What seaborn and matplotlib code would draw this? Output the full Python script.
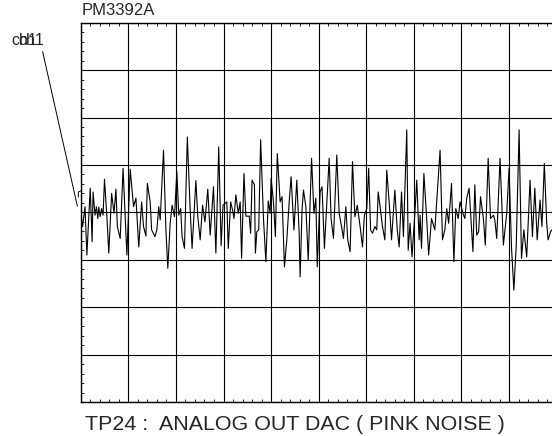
import matplotlib
matplotlib.use("Agg")
import matplotlib.pyplot as plt
import seaborn as sns
import pandas as pd
from matplotlib.ticker import MultipleLocator

# trace, in graticule divisions
time_div = [0.00, 0.04, 0.09, 0.13, 0.20, 0.24, 0.26, 0.30, 0.33, 0.36,
            0.38, 0.41, 0.44, 0.47, 0.50, 0.55, 0.59, 0.65, 0.70, 0.74,
            0.77, 0.83, 0.89, 0.97, 1.04, 1.11, 1.16, 1.19, 1.22, 1.28,
            1.32, 1.37, 1.40, 1.46, 1.49, 1.56, 1.60, 1.64, 1.67, 1.74,
            1.79, 1.83, 1.88, 1.92, 1.97, 2.02, 2.06, 2.10, 2.13, 2.18,
            2.24, 2.30, 2.34, 2.42, 2.46, 2.51, 2.56, 2.61, 2.67, 2.72,
            2.79, 2.84, 2.90, 2.95,
            2.99, 3.07, 3.10, 3.15, 3.19, 3.22, 3.26, 3.31, 3.35, 3.38,
            3.43, 3.47, 3.54, 3.57, 3.60, 3.65, 3.67, 3.70, 3.74, 3.78,
            3.84, 3.89, 3.94, 3.98, 4.00, 4.05, 4.09, 4.13, 4.19, 4.23,
            4.28, 4.33, 4.38, 4.42, 4.48, 4.54, 4.59, 4.61, 4.65, 4.68,
            4.73, 4.78, 4.85, 4.90, 4.94, 4.97, 5.03, 5.07, 5.12, 5.22,
            5.26, 5.31, 5.38, 5.43, 5.48, 5.52, 5.57, 5.61, 5.66, 5.71,
            5.76, 5.81, 5.87, 5.92, 5.96, 6.01, 6.05, 6.09, 6.13, 6.18,
            6.22, 6.25, 6.29, 6.34, 6.39, 6.43,
            6.49, 6.53, 6.60, 6.65, 6.69, 6.74, 6.78, 6.85, 6.88, 6.92,
            6.96, 7.02, 7.06, 7.11, 7.13, 7.16, 7.21, 7.27, 7.31, 7.37,
            7.41, 7.44, 7.55, 7.60, 7.65, 7.69, 7.73, 7.79, 7.84, 7.88,
            7.93, 7.97, 8.03, 8.07, 8.11, 8.16, 8.24, 8.28, 8.32, 8.36,
            8.40, 8.46, 8.50, 8.56, 8.61, 8.67, 8.70, 8.74, 8.81, 8.88,
            8.95, 9.00, 9.05, 9.10, 9.15, 9.21, 9.26, 9.31, 9.37, 9.44,
            9.49, 9.54, 9.59, 9.65, 9.69, 9.74, 9.79, 9.82, 9.87, 9.92]

volt_div = [0.01, -0.30, 0.12, -0.90, 0.51, -0.62, 0.43, -0.06, 0.12, -0.13,
            0.11, -0.09, 0.08, -0.06, 0.70, -0.09, -0.86, 0.40, -0.02, 0.49,
            -0.30, -0.55, 0.93, -0.90, 0.91, 0.12, 0.30, -0.23, -0.73, 0.22,
            -0.30, -0.50, 0.61, 0.22, -0.37, -0.51, -0.37, 0.12, -0.16, 1.31,
            -0.37, -1.18, -0.23, 0.15, -0.09, 0.86, -0.06, 0.08, -0.51, -0.76,
            1.59, 0.05, -0.76, 0.67, -0.09, -0.58, 0.15, -0.20, 0.49, -0.48,
            0.54, -0.86, 1.38, -0.70,
            0.15, 0.22, -0.76, 0.22, 0.05, -0.13, 0.37, -0.02, 0.22, -0.97,
            0.82, -0.08, -0.08, -0.44, 0.68, 0.58, -0.86, -0.41, -0.37, 1.53,
            -0.13, -1.04, 0.24, -0.02, 0.72, 0.22, -0.51, 1.24, 0.22, 0.33,
            -1.15, -0.58, 0.22, 0.75, -0.37, 0.68, -0.44, -1.36, 0.05, 0.47,
            0.12, -1.01, 1.14, -0.02, 0.30, -1.15, 0.43, 0.54, -0.76, 1.14,
            -0.13, -0.55, 1.21, -0.02, -0.30, -0.55, 0.12, -0.58, -0.83, 1.07,
            -0.09, 0.15, -0.30, -0.73, -0.06, 0.08, 0.93, -0.37, -0.44, -0.30,
            -0.37, 0.43, 0.12, -0.30, -0.58, 0.89,
            0.08, -0.58, 0.47, -0.37, -0.73, 0.43, -0.51, 1.74, -0.80, -0.23,
            -0.94, -0.02, 0.68, -0.58, -0.06, -0.76, 0.82, -0.16, -0.90, -0.13,
            -0.27, -0.37, 1.31, -0.58, -0.37, 0.08, -0.23, 0.61, -1.04, 0.08,
            -0.13, 0.22, -0.02, -0.13, 0.30, 0.51, -0.83, 0.58, -0.48, -0.41,
            0.33, -0.13, -0.69, 1.14, -0.13, -0.06, -0.16, -0.55, 1.14, -0.69,
            -0.02, 0.93, -0.73, -1.64, -0.69, 1.74, -0.97, -0.37, -0.94, 0.68,
            -0.51, 0.51, -0.58, 0.26, -0.30, 1.03, -0.23, -0.58, -0.41, -0.35]

x_divs = list(range(0, 11))
y_divs = list(range(-4, 5))

title = "PM3392A"
caption = "TP24 :  ANALOG OUT DAC ( PINK NOISE )"
channel = "ch1"

sns.set_style("white")
plt.rcParams["font.family"] = ["Liberation Sans", "DejaVu Sans"]

df = pd.DataFrame({"t": time_div, "v": volt_div})

fig = plt.figure(figsize=(5.52, 4.36), dpi=100)
# graticule runs slightly past the right edge of the screenshot
ax = fig.add_axes([80.7 / 552, 34 / 436, 476 / 552, 379.3 / 436])

sns.lineplot(data=df, x="t", y="v", ax=ax, color="black", linewidth=0.8,
             estimator=None, sort=False)

ax.set_xlim(x_divs[0], x_divs[-1])
ax.set_ylim(y_divs[0], y_divs[-1])
ax.set_xticks(x_divs)
ax.set_yticks(y_divs)
ax.xaxis.set_minor_locator(MultipleLocator(0.2))
ax.yaxis.set_minor_locator(MultipleLocator(0.2))
ax.grid(True, which="major", color="black", linewidth=0.8)
ax.tick_params(which="major", length=0, labelbottom=False, labelleft=False)
ax.tick_params(which="minor", direction="in", length=2.4, width=0.6,
               color="black", top=True, bottom=True, left=True, right=True)
ax.set_xlabel("")
ax.set_ylabel("")
for s in ax.spines.values():
    s.set_color("black")
    s.set_linewidth(1.0)
ax.set_axisbelow(True)

# channel pointer and ground marker
ax.plot([-0.80, -0.07], [3.39, 0.13], color="black", lw=0.7, clip_on=False)
ax.plot([-0.05, -0.05, 0.0], [0.32, 0.43, 0.45], color="black", lw=0.7,
        clip_on=False)

fig.text(81.7 / 552, 1 - 15 / 436, title, fontsize=12, va="baseline")
fig.text(85 / 552, 1 - 430 / 436, caption, fontsize=15.4, va="baseline")
# the scope printed the channel label twice, slightly shifted
fig.text(11.7 / 552, 1 - 45 / 436, channel, fontsize=11.5, va="baseline")
fig.text(18.5 / 552, 1 - 45 / 436, channel, fontsize=11.5, va="baseline")

fig.savefig("out.png", dpi=100)
